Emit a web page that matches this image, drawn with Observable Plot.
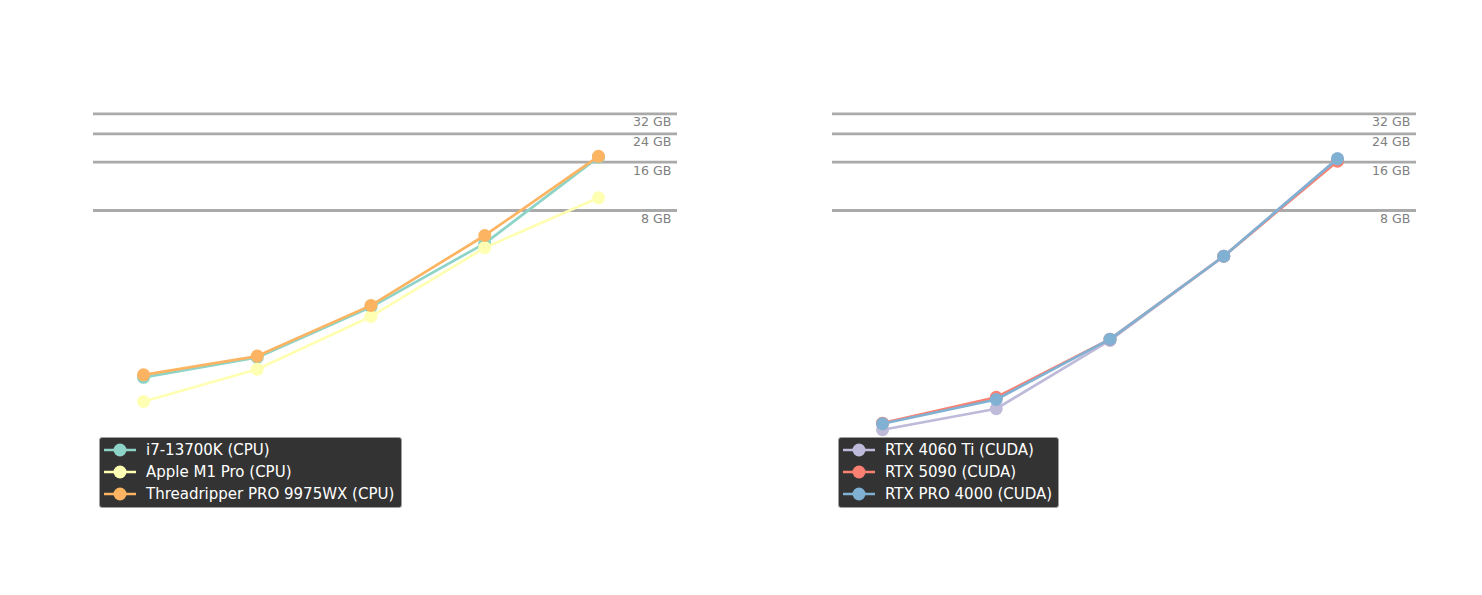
<!DOCTYPE html>
<html>
<head>
<meta charset="utf-8">
<script src="https://cdn.jsdelivr.net/npm/d3@7"></script>
<script src="https://cdn.jsdelivr.net/npm/@observablehq/plot@0.6"></script>
<style>
  html, body { margin: 0; padding: 0; background: #ffffff; }
  #wrap { position: relative; width: 1482px; height: 595px; font-family: "DejaVu Sans", sans-serif; }
  .panel { position: absolute; top: 0; }
  .legend { position: absolute; background: #333333; border: 1px solid #a0a0a0; border-radius: 3px;
            box-sizing: border-box; padding: 1px 6px 3px 4px; }
  .legend .row { display: flex; align-items: center; height: 22px; color: #ffffff; font-size: 15px; white-space: nowrap; }
  .legend svg { margin-right: 10px; flex: none; }
</style>
</head>
<body>
<div id="wrap"></div>
<script>
// ---- data ----
const steps = [0, 1, 2, 3, 4];

const refValues = [8, 16, 24, 32];
const refLabels = ["8 GB", "16 GB", "24 GB", "32 GB"];

const cpuNames = ["i7-13700K (CPU)", "Apple M1 Pro (CPU)", "Threadripper PRO 9975WX (CPU)"];
const cpuColors = ["#8dd3c7", "#ffffb3", "#fdb462"];
const i7_13700K = [0.73, 0.97, 2.0, 4.99, 17.2];
const appleM1Pro = [0.516, 0.82, 1.75, 4.69, 9.6];
const threadripper9975WX = [0.757, 0.99, 2.05, 5.59, 17.4];

const gpuNames = ["RTX 4060 Ti (CUDA)", "RTX 5090 (CUDA)", "RTX PRO 4000 (CUDA)"];
const gpuColors = ["#bebada", "#fb8072", "#80b1d3"];
const rtx4060Ti = [0.344, 0.465, 1.24, 4.15, 16.8];
const rtx5090 = [0.378, 0.548, 1.263, 4.15, 16.23];
const rtxPro4000 = [0.375, 0.531, 1.263, 4.15, 16.8];

// ---- drawing ----
const wrap = document.getElementById("wrap");
const refData = refValues.map((v, i) => ({v, label: refLabels[i]}));

function panel(names, colors, series, left, width, mL, mR, xRange, legendPos) {
  const marks = [
    Plot.ruleY(refData, {y: "v", stroke: "#aaaaaa", strokeWidth: 2.8}),
    Plot.text(refData, {y: "v", text: "label", frameAnchor: "right", textAnchor: "end",
      dx: -6, dy: 8.5, fill: "#808080", fontSize: 12.6})
  ];
  series.forEach((vals, k) => {
    const rows = steps.map((s, i) => ({x: s, y: vals[i]}));
    marks.push(Plot.line(rows, {x: "x", y: "y", stroke: colors[k], strokeWidth: 2.7}));
    marks.push(Plot.dot(rows, {x: "x", y: "y", fill: colors[k], r: 6.5}));
  });
  const chart = Plot.plot({
    width, height: 595,
    marginLeft: mL, marginRight: mR, marginTop: 0, marginBottom: 0,
    style: {fontFamily: "DejaVu Sans, sans-serif", background: "transparent", overflow: "visible"},
    x: {type: "linear", domain: [0, 4], range: xRange, axis: null},
    y: {type: "log", domain: [8, 32], range: [210, 113.4], axis: null},
    marks
  });
  const div = document.createElement("div");
  div.className = "panel";
  div.style.left = left + "px";
  div.appendChild(chart);
  wrap.appendChild(div);

  const lg = document.createElement("div");
  lg.className = "legend";
  lg.style.left = legendPos[0] + "px";
  lg.style.top = legendPos[1] + "px";
  lg.style.width = legendPos[2] + "px";
  lg.style.height = legendPos[3] + "px";
  names.forEach((n, k) => {
    const row = document.createElement("div");
    row.className = "row";
    row.innerHTML = `<svg width="32" height="16"><line x1="0" y1="8" x2="32" y2="8" stroke="${colors[k]}" stroke-width="2.5"/><circle cx="16" cy="8" r="6.5" fill="${colors[k]}"/></svg><span>${n}</span>`;
    lg.appendChild(row);
  });
  wrap.appendChild(lg);
}

panel(cpuNames, cpuColors, [i7_13700K, appleM1Pro, threadripper9975WX],
  0, 741, 93, 64, [143, 598], [99, 437, 303, 71]);
panel(gpuNames, gpuColors, [rtx4060Ti, rtx5090, rtxPro4000],
  741, 741, 91, 66, [141, 596], [838, 437, 221, 71]);
</script>
</body>
</html>
